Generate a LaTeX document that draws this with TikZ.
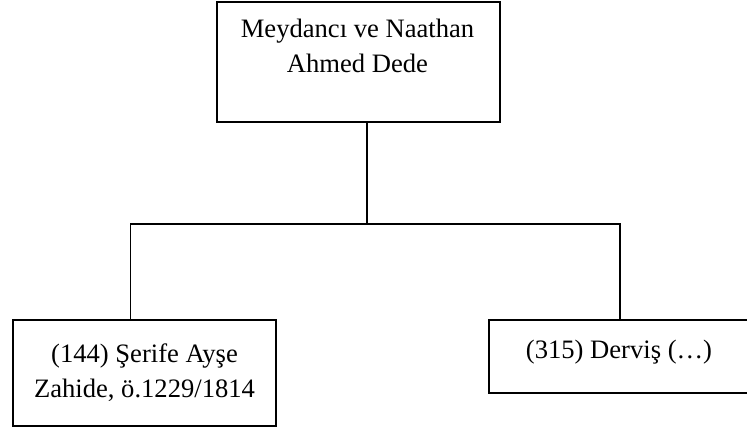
\documentclass[tikz,border=0pt]{standalone}
\usepackage{fontspec}
\setmainfont{Liberation Serif}

\begin{document}
\begin{tikzpicture}[x=1pt,y=-1pt,
		box/.style={draw, line width=1.6pt, rectangle, inner sep=0pt, anchor=north west},
		txt/.style={anchor=north, align=center, inner sep=0pt, font=\fontsize{26.6}{35}\selectfont},
		link/.style={line width=1.6pt}]
		\useasboundingbox (0,0) rectangle (747,430);
		% boxes
		\node[box, minimum width=283pt, minimum height=120pt] (ahmed) at (216,1.5) {};
		\node[box, minimum width=263pt, minimum height=106pt] (serife) at (12,319) {};
		\node[box, minimum width=263pt, minimum height=73pt] (dervis) at (488,319) {};
		% texts
		\node[txt] (ahmedtxt) at (357.5,19) {Meydancı ve Naathan\\Ahmed Dede};
		\node[txt] (serifetxt) at (144.5,343.5) {(144) Şerife Ayşe\\Zahide, ö.1229/1814};
		\node[txt] (dervistxt) at (619,339.5) {(315) Derviş (…)};
		% lines
		\coordinate (fork) at (367,224);
		\coordinate (lft) at (130.5,224);
		\coordinate (rgt) at (620,224);
		\draw[link] (ahmed.south -| fork) -- (fork);
		\draw[link] (serife.north -| lft) -- (lft) -- (rgt) -- (dervis.north -| rgt);
\end{tikzpicture}
\end{document}
